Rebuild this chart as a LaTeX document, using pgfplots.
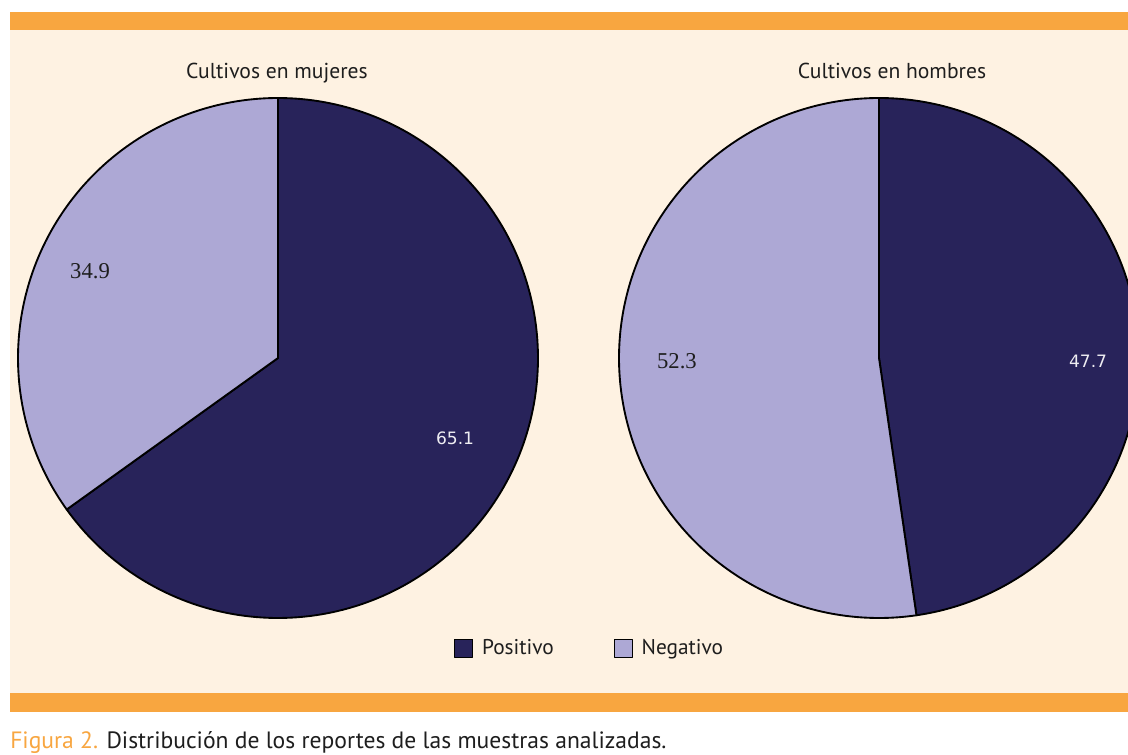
\documentclass[border=0pt]{standalone}
\usepackage{fontspec}
\setmainfont{PT Sans}
\newfontfamily\numserif{Liberation Serif}
\newfontfamily\numsans{DejaVu Sans}
\usepackage{pgfplots}
\usepackage{pgfplotstable}
\pgfplotsset{compat=1.18}

\definecolor{banda}{HTML}{F8A640}
\definecolor{fondo}{HTML}{FEF2E2}
\definecolor{positivo}{HTML}{28235A}
\definecolor{negativo}{HTML}{ADA8D5}
\definecolor{texto}{HTML}{1E1E1E}

% porcentaje de cultivos positivos / negativos
\pgfplotstableread{
grupo   positivo negativo
mujeres 65.1     34.9
hombres 47.7     52.3
}\cultivos

\pgfplotsset{
  pastel/.style={hide axis, scale only axis, width=390pt, height=390pt,
    xmin=-1, xmax=1, ymin=-1, ymax=1, clip=false, anchor=center},
  rebanada/.style={draw=black, line width=1.4pt, line join=round,
    samples=181, variable=\t, domain=#1},
}

\begin{document}
\begin{tikzpicture}[x=0.75pt, y=0.75pt]
\useasboundingbox (0,0) rectangle (1128,754);
\clip (0,0) rectangle (1128,754);
\fill[white] (0,0) rectangle (1128,754);
\fill[fondo] (10,61) rectangle (1128,724);
\fill[banda] (10,724) rectangle (1128,742);
\fill[banda] (10,42) rectangle (1128,61);

\pgfplotstablegetelem{0}{positivo}\of\cultivos \let\mpos\pgfplotsretval
\pgfplotstablegetelem{0}{negativo}\of\cultivos \let\mneg\pgfplotsretval
\pgfplotstablegetelem{1}{positivo}\of\cultivos \let\hpos\pgfplotsretval
\pgfplotstablegetelem{1}{negativo}\of\cultivos \let\hneg\pgfplotsretval
\pgfmathsetmacro\mcorte{90-3.6*\mpos}
\pgfmathsetmacro\hcorte{90-3.6*\hpos}

\node[anchor=base, text=texto, font=\fontsize{16.2}{18}\selectfont] at (277,675) {Cultivos en mujeres};
\node[anchor=base, text=texto, font=\fontsize{16.2}{18}\selectfont] at (892,675) {Cultivos en hombres};

\begin{axis}[pastel, at={(208.5pt,297pt)},
  legend style={at={(1.1,-0.058)}, anchor=center, draw=none, fill=none,
    legend columns=2, font=\fontsize{16}{18}\selectfont, text=texto,
    /tikz/every odd column/.append style={column sep=4.5pt},
    /tikz/every even column/.append style={column sep=43pt}},
  legend image code/.code={\draw[#1, draw=black, line width=0.9pt]
    (0pt,-6.75pt) rectangle (13.5pt,6.75pt);}]
\addplot[rebanada=\mcorte:90, fill=positivo] ({cos(\t)},{sin(\t)}) -- (axis cs:0,0) -- cycle;
\addlegendentry{Positivo}
\addplot[rebanada=-270:\mcorte, fill=negativo] ({cos(\t)},{sin(\t)}) -- (axis cs:0,0) -- cycle;
\addlegendentry{Negativo}
\node[text=white!92!positivo, font=\numsans\fontsize{12.8}{14}\selectfont] at (axis cs:0.681,-0.308) {\mpos};
\node[text=texto, font=\numserif\fontsize{17}{19}\selectfont] at (axis cs:-0.723,0.335) {\mneg};
\end{axis}

\begin{axis}[pastel, at={(659.25pt,297pt)}]
\addplot[rebanada=\hcorte:90, fill=positivo] ({cos(\t)},{sin(\t)}) -- (axis cs:0,0) -- cycle;
\addplot[rebanada=-270:\hcorte, fill=negativo] ({cos(\t)},{sin(\t)}) -- (axis cs:0,0) -- cycle;
\node[text=white!92!positivo, font=\numsans\fontsize{12.8}{14}\selectfont] at (axis cs:0.804,-0.012) {\hpos};
\node[text=texto, font=\numserif\fontsize{17}{19}\selectfont] at (axis cs:-0.777,-0.012) {\hneg};
\end{axis}

\node[anchor=base west, inner sep=0pt, font=\fontsize{17.7}{20}\selectfont, text=texto]
  at (10,6) {\textcolor{banda}{Figura 2.} Distribución de los reportes de las muestras analizadas.};
\end{tikzpicture}
\end{document}
